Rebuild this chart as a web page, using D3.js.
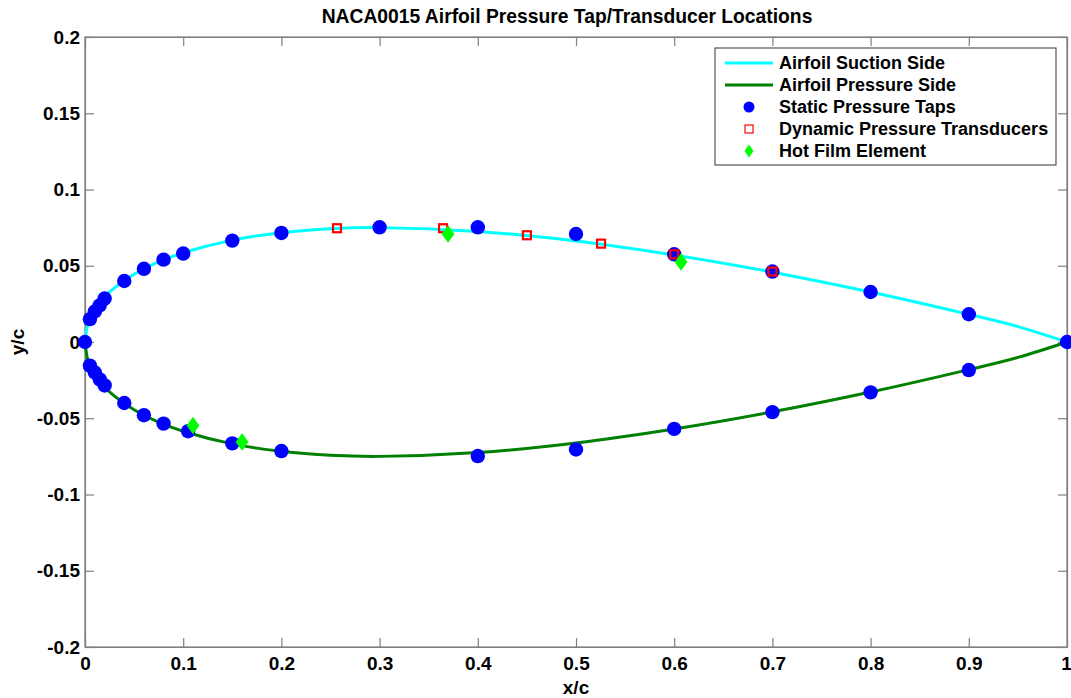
<!DOCTYPE html>
<html>
<head>
<meta charset="utf-8">
<script src="https://cdn.jsdelivr.net/npm/d3@7"></script>
<style>
  body { margin: 0; background: #fff; }
  svg text { font-family: "Liberation Sans", Arial, sans-serif; font-weight: bold; fill: #000; }
</style>
</head>
<body>
<svg id="chart" width="1071" height="698"></svg>
<script>
// ---- Data ----
const profileX      = [0, 0.0025, 0.005, 0.0125, 0.025, 0.05, 0.075, 0.1, 0.15, 0.2, 0.25, 0.3, 0.4, 0.5, 0.6, 0.7, 0.8, 0.9, 0.95, 1.0];
const suctionY      = [0, 0.0109, 0.0153, 0.0237, 0.0327, 0.0444, 0.0525, 0.0585, 0.0668, 0.0717, 0.0743, 0.0750, 0.0725, 0.0662, 0.0570, 0.0458, 0.0328, 0.0181, 0.0101, 0];
const pressureY     = [0, -0.0109, -0.0153, -0.0237, -0.0327, -0.0444, -0.0525, -0.0585, -0.0668, -0.0717, -0.0743, -0.0750, -0.0725, -0.0662, -0.0570, -0.0458, -0.0328, -0.0181, -0.0101, 0];

const tapX = [0, 0.005, 0.01, 0.015, 0.02, 0.04, 0.06, 0.08, 0.1, 0.15, 0.2, 0.3, 0.4, 0.5, 0.6, 0.7, 0.8, 0.9, 1.0,
              0.005, 0.01, 0.015, 0.02, 0.04, 0.06, 0.08, 0.105, 0.15, 0.2, 0.4, 0.5, 0.6, 0.7, 0.8, 0.9];
const tapY = [0, 0.0150, 0.0200, 0.0240, 0.0285, 0.0400, 0.0480, 0.0540, 0.0580, 0.0665, 0.0715, 0.0752, 0.0752, 0.0708, 0.0575, 0.0462, 0.0328, 0.0182, 0,
              -0.0155, -0.0200, -0.0245, -0.0285, -0.0400, -0.0480, -0.0535, -0.0585, -0.0665, -0.0715, -0.0748, -0.0705, -0.0570, -0.0460, -0.0330, -0.0184];

const transducerX = [0.2566, 0.3646, 0.450, 0.5255, 0.600, 0.700];
const transducerY = [0.0746, 0.0746, 0.0700, 0.0645, 0.0575, 0.0462];

const hotFilmX = [0.3697, 0.607, 0.110, 0.160];
const hotFilmY = [0.0708, 0.0525, -0.0548, -0.0655];

const xTicks = [0, 0.1, 0.2, 0.3, 0.4, 0.5, 0.6, 0.7, 0.8, 0.9, 1];
const yTicks = [-0.2, -0.15, -0.1, -0.05, 0, 0.05, 0.1, 0.15, 0.2];
const legendLabels = ["Airfoil Suction Side", "Airfoil Pressure Side", "Static Pressure Taps", "Dynamic Pressure Transducers", "Hot Film Element"];
const titleText = "NACA0015 Airfoil Pressure Tap/Transducer Locations";

// ---- Colours ----
const cSuction = "#00ffff", cPressure = "#008000", cTap = "#0000ff", cTrans = "#ff0000", cHot = "#00ff00";

// ---- Layout ----
const L = 85, R = 1067, T = 37, B = 647;
const svg = d3.select("#chart");
const x = d3.scaleLinear().domain([0, 1]).range([L, R]);
const y = d3.scaleLinear().domain([-0.2, 0.2]).range([B, T]);
const axisColor = "#7f7f7f";
const fmt = d => (d === 0 ? "0" : (d === 1 ? "1" : String(d)));

// frame
svg.append("rect").attr("x", L).attr("y", T).attr("width", R - L).attr("height", B - T)
  .attr("fill", "#fff").attr("stroke", axisColor).attr("stroke-width", 1.2);

// axes (ticks inward)
const tickLen = 9;
const gxB = svg.append("g").attr("transform", `translate(0,${B})`)
  .call(d3.axisBottom(x).tickValues(xTicks).tickSizeInner(-tickLen).tickSizeOuter(0).tickPadding(10).tickFormat(fmt));
const gxT = svg.append("g").attr("transform", `translate(0,${T})`)
  .call(d3.axisTop(x).tickValues(xTicks).tickSizeInner(-tickLen).tickSizeOuter(0).tickFormat(""));
const gyL = svg.append("g").attr("transform", `translate(${L},0)`)
  .call(d3.axisLeft(y).tickValues(yTicks).tickSizeInner(-tickLen).tickSizeOuter(0).tickPadding(5).tickFormat(fmt));
const gyR = svg.append("g").attr("transform", `translate(${R},0)`)
  .call(d3.axisRight(y).tickValues(yTicks).tickSizeInner(-tickLen).tickSizeOuter(0).tickFormat(""));
[gxB, gxT, gyL, gyR].forEach(g => {
  g.select(".domain").attr("stroke", axisColor).attr("stroke-width", 1.2);
  g.selectAll(".tick line").attr("stroke", axisColor).attr("stroke-width", 1.2);
  g.selectAll(".tick text").style("font-size", "19px").style("font-family", "'Liberation Sans', Arial, sans-serif")
    .style("font-weight", "bold").attr("fill", "#000");
});
gxB.selectAll(".tick text").attr("dy", "0.71em");
gxB.selectAll(".tick text").filter(d => d === 1).attr("dx", "-1");

// title and axis labels
svg.append("text").attr("x", 567).attr("y", 23).attr("text-anchor", "middle")
  .style("font-size", "19.3px").text(titleText);
svg.append("text").attr("x", (L + R) / 2).attr("y", 694).attr("text-anchor", "middle")
  .style("font-size", "19px").text("x/c");
svg.append("text").attr("transform", `translate(24,${(T + B) / 2}) rotate(-90)`).attr("text-anchor", "middle")
  .style("font-size", "19px").text("y/c");

// airfoil curves
const profS = profileX.map((d, i) => [d, suctionY[i]]);
const profP = profileX.map((d, i) => [d, pressureY[i]]);
const line = d3.line().x(d => x(d[0])).y(d => y(d[1])).curve(d3.curveCatmullRom.alpha(0.5));
svg.append("path").attr("d", line(profS)).attr("fill", "none").attr("stroke", cSuction).attr("stroke-width", 3);
svg.append("path").attr("d", line(profP)).attr("fill", "none").attr("stroke", cPressure).attr("stroke-width", 3);

// static taps
svg.append("g").selectAll("circle").data(tapX.map((d, i) => [d, tapY[i]])).join("circle")
  .attr("cx", d => x(d[0])).attr("cy", d => y(d[1])).attr("r", 7.2).attr("fill", cTap);

// dynamic transducers
const sq = 8;
svg.append("g").selectAll("rect").data(transducerX.map((d, i) => [d, transducerY[i]])).join("rect")
  .attr("x", d => x(d[0]) - sq / 2).attr("y", d => y(d[1]) - sq / 2).attr("width", sq).attr("height", sq)
  .attr("fill", "none").attr("stroke", cTrans).attr("stroke-width", 2.2);

// hot film
const diamond = (cx, cy, w, h) => `M${cx},${cy - h}L${cx + w},${cy}L${cx},${cy + h}L${cx - w},${cy}Z`;
svg.append("g").selectAll("path").data(hotFilmX.map((d, i) => [d, hotFilmY[i]])).join("path")
  .attr("d", d => diamond(x(d[0]), y(d[1]), 5.5, 7.5)).attr("fill", cHot).attr("stroke", cHot).attr("stroke-width", 1.5);

// legend
const lg = svg.append("g");
lg.append("rect").attr("x", 715).attr("y", 48).attr("width", 341).attr("height", 117)
  .attr("fill", "#fff").attr("stroke", "#333").attr("stroke-width", 1);
const rowY = [63, 85, 107, 129, 151];
legendLabels.forEach((lab, i) => {
  lg.append("text").attr("x", 779).attr("y", rowY[i]).attr("dy", "0.35em").style("font-size", "18px").text(lab);
});
lg.append("line").attr("x1", 725).attr("x2", 773).attr("y1", rowY[0]).attr("y2", rowY[0]).attr("stroke", cSuction).attr("stroke-width", 3);
lg.append("line").attr("x1", 725).attr("x2", 773).attr("y1", rowY[1]).attr("y2", rowY[1]).attr("stroke", cPressure).attr("stroke-width", 3);
lg.append("circle").attr("cx", 749).attr("cy", rowY[2]).attr("r", 5.5).attr("fill", cTap);
lg.append("rect").attr("x", 749 - 4).attr("y", rowY[3] - 4).attr("width", 8).attr("height", 8)
  .attr("fill", "none").attr("stroke", cTrans).attr("stroke-width", 1.2);
lg.append("path").attr("d", diamond(749, rowY[4], 4.5, 6.5)).attr("fill", cHot);
</script>
</body>
</html>
